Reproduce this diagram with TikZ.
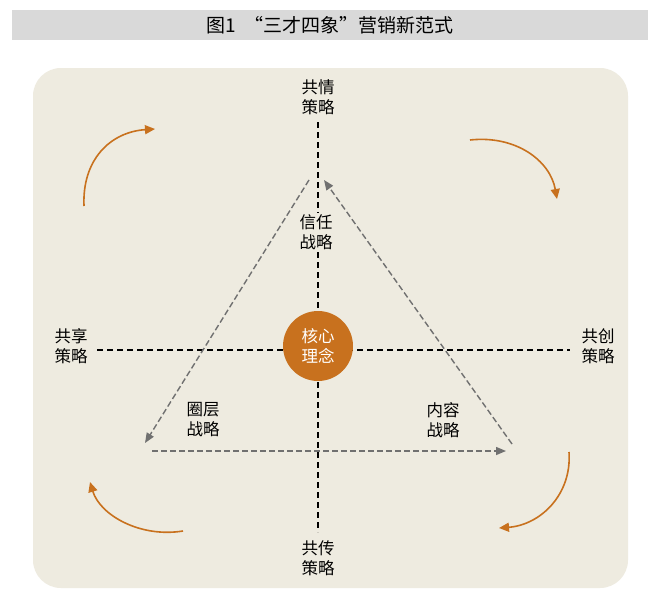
\documentclass[tikz,border=0pt]{standalone}
\usepackage{fontspec}
\setmainfont{Noto Sans CJK SC}
\usetikzlibrary{arrows.meta}
\definecolor{bg}{HTML}{EEEBE0}
\definecolor{tb}{HTML}{D9D9D9}
\definecolor{org}{HTML}{C8711E}
\definecolor{gr}{HTML}{707070}
\tikzset{lbl/.style={align=center,font=\fontsize{16.5}{20}\selectfont,inner sep=1pt},
 axis/.style={black,line width=1.2pt,dash pattern=on 6pt off 4pt},
 tri/.style={gr,line width=1.4pt,dash pattern=on 6pt off 3pt,-{Triangle[length=10pt,width=8pt]}},
 oarr/.style={org,line width=1.6pt,-{Triangle[length=10pt,width=9pt]}}}
\begin{document}
\begin{tikzpicture}[x=1pt,y=-1pt]
\useasboundingbox (0,0) rectangle (660,594);
\fill[white] (0,0) rectangle (660,594);
\fill[tb] (12,10) rectangle (648,40);
\node[font=\fontsize{19}{21}\selectfont] (title) at (330,25) {图1\ \ “三才四象”营销新范式};
\fill[bg,rounded corners=28pt] (33,68) rectangle (628,588);
\coordinate (vt) at (318,122); \coordinate (vb) at (318,532);
\coordinate (hl) at (97,350); \coordinate (hr) at (570,350);
\draw[axis] (vt) -- (vb);
\draw[axis] (hl) -- (hr);
\node[circle,fill=org,minimum size=70pt,text=white,lbl] (core) at (318,346) {核心\\理念};
\node[lbl] (n) at (318,97) {共情\\策略};
\node[lbl] (s) at (318,558) {共传\\策略};
\node[lbl] (w) at (71,346) {共享\\策略};
\node[lbl] (e) at (598,346) {共创\\策略};
\node[lbl,fill=bg] (t1) at (316,232) {信任\\战略};
\node[lbl] (t2) at (203,420) {圈层\\战略};
\node[lbl] (t3) at (443,420) {内容\\战略};
\coordinate (a1) at (309,180); \coordinate (a2) at (145,443);
\coordinate (b1) at (152,451); \coordinate (b2) at (506,451);
\coordinate (c1) at (512,444); \coordinate (c2) at (324,180);
\draw[tri] (a1) -- (a2);
\draw[tri] (b1) -- (b2);
\draw[tri] (c1) -- (c2);
\coordinate (o1s) at (84,206); \coordinate (o1e) at (155,129);
\coordinate (o2s) at (470,140); \coordinate (o2e) at (557,199);
\coordinate (o3s) at (569,452); \coordinate (o3e) at (499,528);
\coordinate (o4s) at (183,531); \coordinate (o4e) at (90,482);
\draw[oarr] (o1s) .. controls (82,160) and (110,132) .. (o1e);
\draw[oarr] (o2s) .. controls (515,135) and (550,160) .. (o2e);
\draw[oarr] (o3s) .. controls (572,495) and (540,525) .. (o3e);
\draw[oarr] (o4s) .. controls (140,538) and (100,515) .. (o4e);
\end{tikzpicture}
\end{document}
